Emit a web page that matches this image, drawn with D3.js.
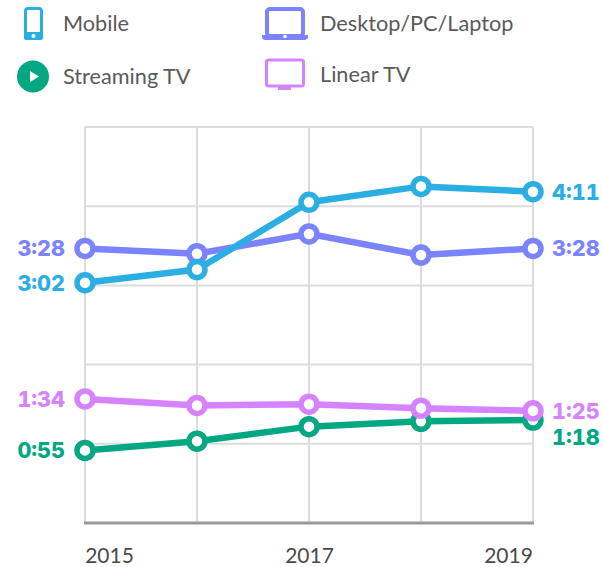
<!DOCTYPE html>
<html><head><meta charset="utf-8">
<script src="https://cdn.jsdelivr.net/npm/d3@7"></script>
<style>html,body{margin:0;background:#fff}svg{display:block}</style>
</head><body><svg id="c" width="603" height="567"></svg>
<script>
const years = [2015, 2016, 2017, 2018, 2019];
const xTickYears = [2015, 2017, 2019];
const gridMinutes = [0, 60, 120, 180, 240, 300];
const streamingTV = [55, 62, 73, 77, 78];
const linearTV = [94, 89, 90, 87, 85];
const desktop = [208, 204, 219, 203, 208];
const mobile = [182, 192, 243, 255, 251];
const seriesNames = ["Streaming TV", "Linear TV", "Desktop/PC/Laptop", "Mobile"];
const seriesColors = ["#03a883", "#d683ff", "#7b83ff", "#2bafe2"];
const seriesValues = [streamingTV, linearTV, desktop, mobile];
const fmt = m => Math.floor(m / 60) + ":" + String(m % 60).padStart(2, "0");

const svg = d3.select("#c");
const x = d3.scaleLinear().domain([2015, 2019]).range([85, 533]);
const y = d3.scaleLinear().domain([0, 300]).range([523, 127]);
const uiFont = "Lato, 'Open Sans', sans-serif";
const boldFont = "Inter, 'Open Sans', sans-serif";

// grid
svg.append("g").selectAll("line").data(years).join("line")
  .attr("x1", d => x(d)).attr("x2", d => x(d)).attr("y1", y(300)).attr("y2", y(0))
  .attr("stroke", "#dcdcdc").attr("stroke-width", 2);
svg.append("g").selectAll("line").data(gridMinutes.filter(d => d > 0)).join("line")
  .attr("x1", x(2015)).attr("x2", x(2019)).attr("y1", d => y(d)).attr("y2", d => y(d))
  .attr("stroke", "#dcdcdc").attr("stroke-width", 2);
svg.append("line").attr("x1", x(2015) - 1).attr("x2", x(2019) + 1).attr("y1", y(0)).attr("y2", y(0))
  .attr("stroke", "#999").attr("stroke-width", 3);

// x labels
const xAxis = d3.axisBottom(x).tickValues(xTickYears).tickFormat(d3.format("d")).tickSize(0).tickPadding(0);
const gx = svg.append("g").attr("transform", "translate(0,545)").call(xAxis);
gx.select(".domain").remove();
gx.selectAll("text").attr("font-family", uiFont).attr("font-size", 21).attr("fill", "#4a4a4a")
  .attr("dy", 0).attr("y", 18)
  .attr("x", d => d === 2015 ? 24 : (d === 2019 ? -25 : 0));

// series
const line = d3.line().x((d, i) => x(years[i])).y(d => y(d));
seriesValues.forEach((vals, k) => {
  const g = svg.append("g");
  g.append("path").attr("d", line(vals)).attr("fill", "none")
    .attr("stroke", seriesColors[k]).attr("stroke-width", 6.5);
  g.selectAll("circle").data(vals).join("circle")
    .attr("cx", (d, i) => x(years[i])).attr("cy", d => y(d)).attr("r", 8)
    .attr("fill", "#fff").attr("stroke", seriesColors[k]).attr("stroke-width", 5.5);
});

// value labels
seriesValues.forEach((vals, k) => {
  svg.append("text").attr("x", 65).attr("y", y(vals[0]) + 8).attr("text-anchor", "end")
    .attr("font-family", boldFont).attr("font-weight", 800).attr("font-size", 21.6)
    .style("font-variant-numeric", "tabular-nums")
    .attr("fill", seriesColors[k]).text(fmt(vals[0]));
  svg.append("text").attr("x", 552).attr("y", y(vals[4]) + 8 + (k === 0 ? 17 : 0)).attr("text-anchor", "start")
    .attr("font-family", boldFont).attr("font-weight", 800).attr("font-size", 21.6)
    .style("font-variant-numeric", "tabular-nums")
    .attr("fill", seriesColors[k]).text(fmt(vals[4]));
});

// legend
const order = { "Mobile": [63, 31], "Streaming TV": [63, 84], "Desktop/PC/Laptop": [320, 31], "Linear TV": [320, 82] };
seriesNames.forEach(n => {
  svg.append("text").attr("x", order[n][0]).attr("y", order[n][1])
    .attr("font-family", uiFont).attr("font-size", 21.7).attr("fill", "#5a5a5a").text(n);
});
// Icons
const [cS, cL, cD, cM] = seriesColors;
svg.append("rect").attr("x", 25.5).attr("y", 8.5).attr("width", 16).attr("height", 30).attr("rx", 2.5)
  .attr("fill", "#fff").attr("stroke", cM).attr("stroke-width", 3);
svg.append("rect").attr("x", 24).attr("y", 32).attr("width", 19).attr("height", 8).attr("rx", 2).attr("fill", cM);
svg.append("circle").attr("cx", 33.5).attr("cy", 36).attr("r", 2).attr("fill", "#fff");

svg.append("circle").attr("cx", 33).attr("cy", 76.5).attr("r", 16).attr("fill", cS);
svg.append("path").attr("d", "M30 71 L39 76.5 L30 82 Z").attr("fill", "#fff");

svg.append("rect").attr("x", 267).attr("y", 9).attr("width", 36).attr("height", 27).attr("rx", 3)
  .attr("fill", "#fff").attr("stroke", cD).attr("stroke-width", 4);
svg.append("path").attr("d", "M262 35 H308 V37 Q308 40 304 40 H266 Q262 40 262 37 Z").attr("fill", cD);
svg.append("circle").attr("cx", 285).attr("cy", 36.5).attr("r", 1.8).attr("fill", "#fff");

svg.append("rect").attr("x", 266.5).attr("y", 60).attr("width", 37).attr("height", 26).attr("rx", 2)
  .attr("fill", "#fff").attr("stroke", cL).attr("stroke-width", 3);
svg.append("rect").attr("x", 278).attr("y", 86).attr("width", 13).attr("height", 4).attr("fill", cL);
</script></body></html>
